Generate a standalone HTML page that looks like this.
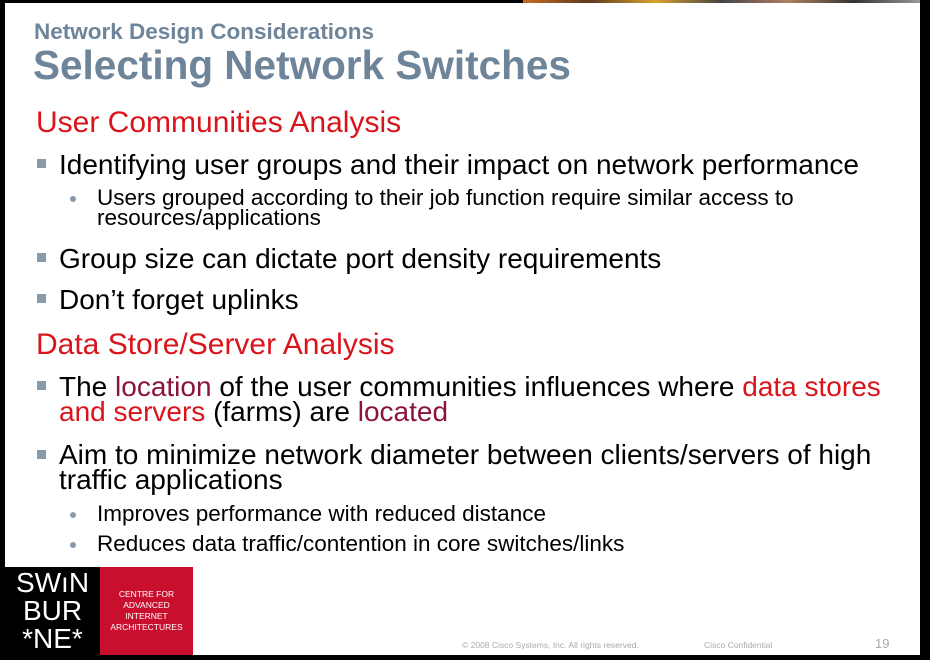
<!DOCTYPE html>
<html><head><meta charset="utf-8"><style>
body{margin:0;width:930px;height:660px;background:#000;position:relative;overflow:hidden;font-family:"Liberation Sans",sans-serif}
#pg{position:absolute;left:5px;top:3px;width:915px;height:652px;background:#fff}
.t{position:absolute;line-height:1;white-space:nowrap}
.sq{position:absolute;width:9px;height:9px;background:#8a9aa8}
.dot{position:absolute;width:6px;height:6px;border-radius:50%;background:#8a9aa8}
.r{color:#d9141b}.m{color:#8b1538}
</style></head><body>
<div id="pg"></div>
<div style="position:absolute;left:523px;top:0;width:397px;height:3px;background:linear-gradient(90deg,#c96a20,#5a3a20,#d9a030,#444,#b08060,#333,#999)"></div>
<div class="t" style="left:34px;top:21px;font-size:22.5px;font-weight:bold;color:#6d8499">Network Design Considerations</div>
<div class="t" style="left:33px;top:45px;font-size:40.5px;font-weight:bold;color:#6d8499">Selecting Network Switches</div>
<div class="t r" style="left:36px;top:108px;font-size:30px">User Communities Analysis</div>
<div class="sq" style="left:37px;top:159px"></div>
<div class="t" style="left:59px;top:151px;font-size:28px">Identifying user groups and their impact on network performance</div>
<div class="dot" style="left:70px;top:196px"></div>
<div class="t" style="left:97px;top:188px;font-size:22.5px;line-height:0.89">Users grouped according to their job function require similar access to<br>resources/applications</div>
<div class="sq" style="left:37px;top:253px"></div>
<div class="t" style="left:59px;top:245px;font-size:28px">Group size can dictate port density requirements</div>
<div class="sq" style="left:37px;top:294px"></div>
<div class="t" style="left:59px;top:286px;font-size:28px">Don’t forget uplinks</div>
<div class="t r" style="left:36px;top:330px;font-size:30px">Data Store/Server Analysis</div>
<div class="sq" style="left:37px;top:381px"></div>
<div class="t" style="left:59px;top:374px;font-size:28px;line-height:0.9">The <span class="m">location</span> of the user communities influences where <span class="r">data stores</span><br><span class="r">and servers</span> (farms) are <span class="m">located</span></div>
<div class="sq" style="left:37px;top:450px"></div>
<div class="t" style="left:59px;top:442px;font-size:28px;line-height:0.9">Aim to minimize network diameter between clients/servers of high<br>traffic applications</div>
<div class="dot" style="left:70px;top:512px"></div>
<div class="t" style="left:97px;top:503px;font-size:22.5px">Improves performance with reduced distance</div>
<div class="dot" style="left:70px;top:542px"></div>
<div class="t" style="left:97px;top:533px;font-size:22.5px">Reduces data traffic/contention in core switches/links</div>
<div style="position:absolute;left:5px;top:567px;width:95px;height:88px;background:#000"></div>
<div style="position:absolute;left:100px;top:567px;width:93px;height:88px;background:#c8102e"></div>
<div class="t" style="left:5px;top:569px;width:95px;text-align:center;color:#fff;font-size:28px;line-height:28px">SWıN<br>BUR<br>*NE*</div>
<div class="t" style="left:100px;top:589px;width:93px;text-align:center;color:#fff;font-size:8.5px;line-height:11px">CENTRE FOR<br>ADVANCED<br>INTERNET<br>ARCHITECTURES</div>
<div class="t" style="left:462px;top:641px;font-size:8.5px;color:#aaa">© 2008 Cisco Systems, Inc. All rights reserved.</div>
<div class="t" style="left:704px;top:641px;font-size:8.5px;color:#aaa">Cisco Confidential</div>
<div class="t" style="left:875px;top:637px;font-size:13px;color:#aaa">19</div>
</body></html>
